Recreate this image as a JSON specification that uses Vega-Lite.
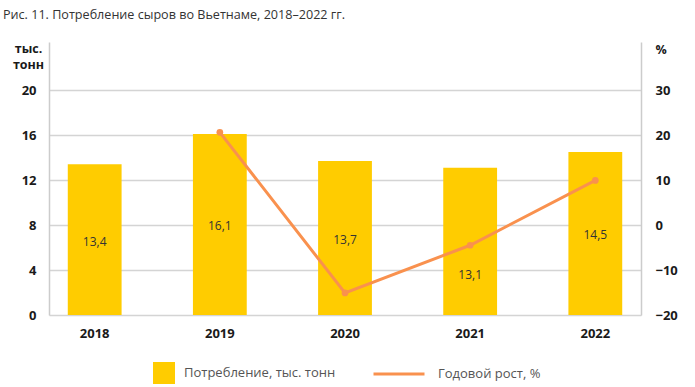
{
  "$schema": "https://vega.github.io/schema/vega-lite/v6.json",
  "width": 592,
  "height": 273,
  "autosize": "none",
  "padding": {"left": 49, "top": 42, "right": 54, "bottom": 72},
  "background": "white",
  "config": {
    "font": "Open Sans",
    "view": {"stroke": null},
    "axis": {"labelFont": "Open Sans", "titleFont": "Open Sans"}
  },
  "title": {
    "text": "Рис. 11. Потребление сыров во Вьетнаме, 2018–2022 гг.",
    "anchor": "start",
    "frame": "group",
    "dx": -46,
    "offset": 20,
    "fontSize": 12.6,
    "fontWeight": "normal",
    "color": "#333333"
  },
  "data": {
    "values": [
      {"year": "2018", "consumption": 13.4, "label": "13,4", "growth": null},
      {"year": "2019", "consumption": 16.1, "label": "16,1", "growth": 20.6},
      {"year": "2020", "consumption": 13.7, "label": "13,7", "growth": -15.1},
      {"year": "2021", "consumption": 13.1, "label": "13,1", "growth": -4.5},
      {"year": "2022", "consumption": 14.5, "label": "14,5", "growth": 9.9}
    ]
  },
  "encoding": {
    "x": {
      "field": "year",
      "type": "ordinal",
      "scale": {"paddingInner": 0.57, "paddingOuter": 0.15},
      "axis": {
        "title": null,
        "labelAngle": 0,
        "labelFontSize": 13,
        "labelFontWeight": "bold",
        "labelColor": "#1a1a1a",
        "labelPadding": 12,
        "ticks": false,
        "domain": false
      }
    }
  },
  "layer": [
    {
      "encoding": {
        "y": {
          "field": "consumption",
          "type": "quantitative",
          "scale": {"domain": [0, 24.27], "nice": false},
          "axis": {
            "values": [0, 4, 8, 12, 16, 20],
            "title": ["тыс.", "тонн"],
            "titleAngle": 0,
            "titleAlign": "center",
            "titleBaseline": "top",
            "titleX": -21,
            "titleY": 0,
            "titleFontSize": 12.5,
            "titleFontWeight": "bold",
            "titleColor": "#1a1a1a",
            "titleLineHeight": 16,
            "labelFontSize": 13,
            "labelFontWeight": "bold",
            "labelColor": "#1a1a1a",
            "labelPadding": 13,
            "ticks": false,
            "domainColor": "#cccccc",
            "domainWidth": 1.5,
            "gridColor": "#d4d4d4",
            "gridWidth": 1.5
          }
        }
      },
      "layer": [
        {
          "mark": {"type": "bar"},
          "encoding": {
            "color": {
              "datum": "Потребление, тыс. тонн",
              "scale": {"range": ["#FFCC00"]},
              "legend": {
                "orient": "none",
                "legendX": 104,
                "legendY": 320,
                "title": null,
                "symbolType": "square",
                "symbolSize": 484,
                "symbolStrokeWidth": 0,
                "labelFontSize": 13,
                "labelColor": "#555555",
                "labelOffset": 9,
                "padding": 0
              }
            }
          }
        },
        {
          "transform": [
            {"filter": "datum.year !== '2021'"},
            {"calculate": "datum.consumption / 2", "as": "mid"}
          ],
          "mark": {"type": "text", "fontSize": 12, "color": "#333333", "dy": 2},
          "encoding": {
            "y": {"field": "mid", "type": "quantitative"},
            "text": {"field": "label"}
          }
        },
        {
          "transform": [
            {"filter": "datum.year === '2021'"},
            {"calculate": "datum.consumption / 2", "as": "mid"}
          ],
          "mark": {"type": "text", "fontSize": 12, "color": "#333333", "dy": 34},
          "encoding": {
            "y": {"field": "mid", "type": "quantitative"},
            "text": {"field": "label"}
          }
        }
      ]
    },
    {
      "encoding": {
        "y": {
          "field": "growth",
          "type": "quantitative",
          "scale": {"domain": [-20, 40.67], "nice": false},
          "axis": {
            "orient": "right",
            "values": [-20, -10, 0, 10, 20, 30],
            "title": "%",
            "titleAngle": 0,
            "titleAlign": "left",
            "titleBaseline": "top",
            "titleX": 14,
            "titleY": 1,
            "titleFontSize": 12.5,
            "titleFontWeight": "bold",
            "titleColor": "#1a1a1a",
            "labelFontSize": 13,
            "labelFontWeight": "bold",
            "labelColor": "#1a1a1a",
            "labelPadding": 14,
            "ticks": false,
            "grid": false,
            "domainColor": "#cccccc",
            "domainWidth": 1.5
          }
        }
      },
      "transform": [{"filter": "datum.growth !== null"}],
      "layer": [
        {
          "mark": {"type": "line", "strokeWidth": 3},
          "encoding": {
            "stroke": {
              "datum": "Годовой рост, %",
              "scale": {"range": ["#F9914E"]},
              "legend": {
                "orient": "none",
                "legendX": 323,
                "legendY": 305,
                "title": null,
                "symbolType": "stroke",
                "symbolSize": 2601,
                "symbolStrokeWidth": 3,
                "labelFontSize": 13,
                "labelColor": "#555555",
                "labelOffset": 12,
                "padding": 0
              }
            }
          }
        },
        {
          "mark": {"type": "point", "filled": true, "size": 45, "color": "#F9914E", "opacity": 1}
        }
      ]
    }
  ],
  "resolve": {"scale": {"y": "independent"}}
}
